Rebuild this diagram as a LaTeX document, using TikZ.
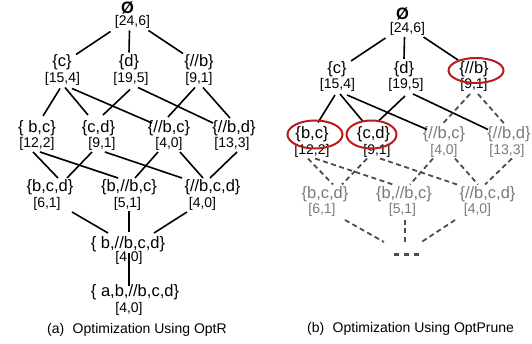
\documentclass[tikz,border=0pt]{standalone}
\usepackage{fontspec}
\setmainfont{Liberation Sans}
\definecolor{fadegray}{HTML}{7a7a7a}
\definecolor{dashgray}{HTML}{4d4d4d}
\definecolor{ringred}{HTML}{b81c1c}
\tikzset{
  setl/.style={inner sep=1pt, font=\fontsize{16.5}{16.5}\selectfont},
  numl/.style={inner sep=1pt, font=\fontsize{14}{14}\selectfont},
  ln/.style={line width=1.6pt},
  captxt/.style={anchor=west, inner sep=0pt, font=\fontsize{14}{14}\selectfont},
  ring/.style={draw=ringred, line width=2pt}
}
\begin{document}
\begin{tikzpicture}[x=1pt, y=-1pt]
\useasboundingbox (0,0) rectangle (532,344);
% rows 1-4 of the lattice, #1 = name prefix, #2 = label of {b,c}
\newcommand{\lattice}[2]{%
  \node[setl, font=\fontsize{16.5}{16.5}\selectfont\bfseries] (#1e) at (127.5,7.5) {Ø};
  \node[numl] (#1en) at (132.5,22) {[24,6]};
  \node[setl] (#1c) at (62,62.5) {\{c\}};
  \node[numl] (#1cn) at (62.5,78.5) {[15,4]};
  \node[setl] (#1d) at (129,62.5) {\{d\}};
  \node[numl] (#1dn) at (131,78.5) {[19,5]};
  \node[setl] (#1b) at (199,62.5) {\{//b\}};
  \node[numl] (#1bn) at (199,78.5) {[9,1]};
  \node[setl] (#1bc) at (37,128) {#2};
  \node[numl] (#1bcn) at (37,144) {[12,2]};
  \node[setl] (#1cd) at (98.5,128) {\{c,d\}};
  \node[numl] (#1cdn) at (102,144) {[9,1]};
  \node[setl, pruned] (#1bcx) at (169,128) {\{//b,c\}};
  \node[numl, pruned] (#1bcxn) at (169,144) {[4,0]};
  \node[setl, pruned] (#1bd) at (234,128) {\{//b,d\}};
  \node[numl, pruned] (#1bdn) at (232,144) {[13,3]};
  \node[setl, pruned] (#1bcd) at (50,187.5) {\{b,c,d\}};
  \node[numl, pruned] (#1bcdn) at (47,203.5) {[6,1]};
  \node[setl, pruned] (#1bbc) at (129,187.5) {\{b,//b,c\}};
  \node[numl, pruned] (#1bbcn) at (127.5,203.5) {[5,1]};
  \node[setl, pruned] (#1bcdx) at (212.5,187.5) {\{//b,c,d\}};
  \node[numl, pruned] (#1bcdxn) at (202.5,203.5) {[4,0]};
  % kept edges
  \draw[ln] ([shift={(-22,9.5)}]#1en.center) -- ([shift={(14,-8)}]#1c.center);
  \draw[ln] ([shift={(-3,8.5)}]#1en.center) -- ([shift={(0,-10)}]#1d.center);
  \draw[ln] ([shift={(16,8.5)}]#1en.center) -- ([shift={(-16,-9)}]#1b.center);
  \draw[ln] ([shift={(-2.5,10)}]#1cn.center) -- ([shift={(6,-12)}]#1bc.center);
  \draw[ln] ([shift={(2.5,9)}]#1cn.center) -- ([shift={(-10.5,-13)}]#1cd.center);
  \draw[ln] ([shift={(9.5,10)}]#1cn.center) -- ([shift={(-17,-5)}]#1bcx.center);
  \draw[ln] ([shift={(-1,11)}]#1dn.center) -- ([shift={(4.5,-13)}]#1cd.center);
  \draw[ln] ([shift={(7,9)}]#1dn.center) -- ([shift={(-21,-5)}]#1bd.center);
  % pruned edges
  \draw[ln, prunedln] ([shift={(-4,9)}]#1bn.center) -- ([shift={(-1,-11)}]#1bcx.center);
  \draw[ln, prunedln] ([shift={(4,9)}]#1bn.center) -- ([shift={(-4,-10)}]#1bd.center);
  \draw[ln, prunedln] ([shift={(-4,8)}]#1bcn.center) -- ([shift={(8,-9.5)}]#1bcd.center);
  \draw[ln, prunedln] ([shift={(3,8)}]#1bcn.center) -- ([shift={(-11,-9.5)}]#1bbc.center);
  \draw[ln, prunedln] ([shift={(-10,8)}]#1cdn.center) -- ([shift={(17,-9.5)}]#1bcd.center);
  \draw[ln, prunedln] ([shift={(3,8)}]#1cdn.center) -- ([shift={(-30.5,-9.5)}]#1bcdx.center);
  \draw[ln, prunedln] ([shift={(-11,8)}]#1bcxn.center) -- ([shift={(6,-9.5)}]#1bbc.center);
  \draw[ln, prunedln] ([shift={(11,8)}]#1bcxn.center) -- ([shift={(-9.5,-9.5)}]#1bcdx.center);
  \draw[ln, prunedln] ([shift={(5,8)}]#1bdn.center) -- ([shift={(-2.5,-9.5)}]#1bcdx.center);
}

% (a) OptR
\begin{scope}[pruned/.style={}, prunedln/.style={}]
\lattice{a}{\{ b,c\}}
\node[setl] (atop) at (128,244) {\{ b,//b,c,d\}};
\node[numl] (atopn) at (129,257.5) {[4,0]};
\node[setl] (aall) at (135,292.5) {\{ a,b,//b,c,d\}};
\node[numl] (aalln) at (129,308.5) {[4,0]};
\draw[ln] ([shift={(25,8.5)}]abcdn.center) -- ([shift={(-20,-11)}]atop.center);
\draw[ln] ([shift={(1.5,7.5)}]abbcn.center) -- ([shift={(1,-12)}]atop.center);
\draw[ln] ([shift={(-15.5,8.5)}]abcdxn.center) -- ([shift={(26,-11)}]atop.center);
\draw[ln] ([shift={(0,-4)}]atopn.center) -- ([shift={(-6,-6.5)}]aall.center);
\end{scope}
\node[captxt] (capa) at (47,330) {(a)\hspace{0.6em}Optimization Using OptR};

% (b) OptPrune
\begin{scope}[shift={(275,6.5)}, pruned/.style={text=fadegray},
  prunedln/.style={draw=dashgray, line width=1.8pt, dash pattern=on 5pt off 3.5pt}]
\lattice{b}{\{b,c\}}
\node[inner sep=0pt, text=dashgray] (bdots) at (131.5,248)
  {\rule{5pt}{3.3pt}\hspace{5pt}\rule{5pt}{3.3pt}\hspace{5pt}\rule{5pt}{3.3pt}};
\draw[ln, prunedln] ([shift={(23,10)}]bbcdn.center) -- ([shift={(-22.5,-12.5)}]bdots.center);
\draw[ln, prunedln] ([shift={(2.5,10)}]bbbcn.center) -- ([shift={(-1.5,-11.5)}]bdots.center);
\draw[ln, prunedln] ([shift={(-22.5,10)}]bbcdxn.center) -- ([shift={(13.5,-11.5)}]bdots.center);
\draw[ring] ([shift={(2,1.5)}]bb.center) ellipse [x radius=27.5pt, y radius=12.5pt];
\draw[ring] ([shift={(3,0)}]bbc.center) ellipse [x radius=27.5pt, y radius=14pt];
\draw[ring] ([shift={(-2,0)}]bcd.center) ellipse [x radius=25pt, y radius=14pt];
\end{scope}
\node[captxt] (capb) at (307,329) {(b)\hspace{0.6em}Optimization Using OptPrune};
\end{tikzpicture}
\end{document}
